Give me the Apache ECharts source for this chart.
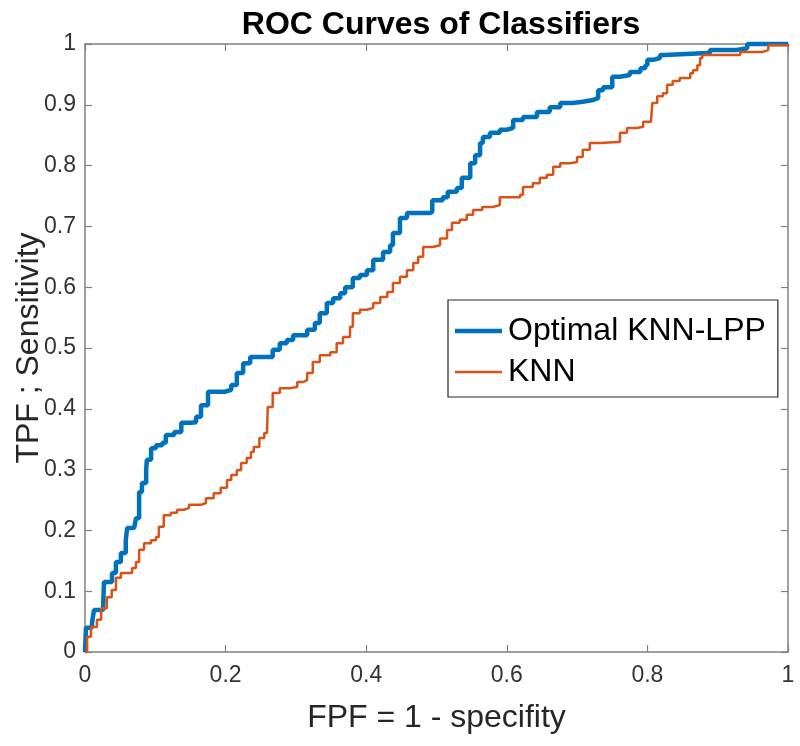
<!DOCTYPE html>
<html>
<head>
<meta charset="utf-8">
<script src="https://cdn.jsdelivr.net/npm/echarts@6/dist/echarts.min.js"></script>
<style>html,body{margin:0;padding:0;background:#fff}#c{width:800px;height:746px}</style>
</head>
<body>
<div id="c"></div>
<script>
var xTicks = [0, 0.2, 0.4, 0.6, 0.8, 1];
var yTicks = [0, 0.1, 0.2, 0.3, 0.4, 0.5, 0.6, 0.7, 0.8, 0.9, 1];
var seriesNames = ['Optimal KNN-LPP', 'KNN'];

var lppFPF = [0,0.0014,0.01,0.0128,0.0256,0.027,0.0384,0.044,0.051,0.058,0.06,0.07,0.0725,0.077,0.081,0.087,0.088,0.094,0.101,0.11,0.115,0.127,0.137,0.151,0.158,0.165,0.175,0.199,0.208,0.216,0.225,0.235,0.259,0.267,0.277,0.287,0.296,0.316,0.327,0.334,0.344,0.353,0.363,0.37,0.381,0.391,0.401,0.41,0.424,0.434,0.438,0.448,0.458,0.491,0.494,0.509,0.516,0.529,0.536,0.548,0.555,0.562,0.566,0.576,0.59,0.6,0.609,0.623,0.643,0.661,0.676,0.694,0.708,0.723,0.73,0.737,0.75,0.761,0.775,0.79,0.797,0.8,0.808,0.818,0.825,0.885,0.889,0.927,0.942,1];
var lppTPF = [0,0.04,0.048,0.069,0.069,0.115,0.13,0.148,0.163,0.184,0.204,0.206,0.22,0.263,0.278,0.3,0.316,0.335,0.34,0.344,0.357,0.362,0.377,0.378,0.387,0.406,0.428,0.431,0.439,0.459,0.475,0.485,0.485,0.497,0.508,0.513,0.521,0.53,0.541,0.557,0.574,0.582,0.59,0.6,0.615,0.62,0.628,0.645,0.658,0.669,0.689,0.714,0.722,0.724,0.743,0.748,0.757,0.763,0.78,0.804,0.817,0.837,0.847,0.854,0.859,0.862,0.875,0.88,0.888,0.896,0.903,0.905,0.908,0.911,0.924,0.929,0.946,0.949,0.954,0.96,0.965,0.974,0.977,0.982,0.985,0.985,0.99,0.993,1,1];

var knnFPF = [0,0.003,0.0085,0.017,0.023,0.027,0.031,0.038,0.044,0.051,0.06,0.067,0.0725,0.077,0.084,0.094,0.101,0.105,0.112,0.122,0.131,0.141,0.148,0.165,0.172,0.183,0.193,0.202,0.208,0.216,0.222,0.23,0.236,0.24,0.248,0.255,0.259,0.26,0.267,0.277,0.292,0.302,0.31,0.316,0.324,0.334,0.349,0.358,0.367,0.377,0.381,0.391,0.401,0.41,0.42,0.43,0.438,0.448,0.458,0.467,0.474,0.481,0.495,0.505,0.515,0.522,0.533,0.543,0.552,0.565,0.58,0.59,0.619,0.623,0.637,0.647,0.657,0.666,0.676,0.69,0.7,0.708,0.718,0.733,0.757,0.761,0.771,0.785,0.794,0.805,0.807,0.814,0.822,0.828,0.836,0.846,0.856,0.861,0.865,0.871,0.875,0.878,0.908,0.932,0.964,0.972,1];
var knnTPF = [0,0.025,0.041,0.053,0.072,0.072,0.09,0.102,0.122,0.13,0.13,0.138,0.148,0.168,0.179,0.184,0.189,0.206,0.225,0.229,0.234,0.237,0.242,0.245,0.253,0.261,0.27,0.283,0.291,0.299,0.311,0.319,0.329,0.337,0.352,0.36,0.365,0.403,0.426,0.434,0.436,0.444,0.447,0.459,0.477,0.488,0.493,0.508,0.518,0.535,0.557,0.563,0.566,0.574,0.584,0.592,0.607,0.617,0.628,0.64,0.65,0.666,0.669,0.68,0.694,0.706,0.711,0.719,0.727,0.732,0.735,0.748,0.752,0.765,0.771,0.78,0.785,0.798,0.804,0.806,0.814,0.826,0.837,0.839,0.839,0.854,0.862,0.864,0.872,0.873,0.903,0.914,0.919,0.933,0.939,0.944,0.944,0.952,0.957,0.965,0.977,0.982,0.982,0.987,0.99,0.998,1];

function pairs(xs, ys) { return xs.map(function (x, i) { return [x, ys[i]]; }); }

var FONT = "'Liberation Sans', Arial, Helvetica, sans-serif";
var axisCol = '#808080';
var labelCol = '#333333';

var chart = echarts.init(document.getElementById('c'), null, { renderer: 'canvas' });
var baseX = {
  type: 'value', min: 0, max: 1, interval: 0.2,
  axisLine: { show: true, onZero: false, lineStyle: { color: axisCol, width: 1.5 } },
  axisTick: { show: true, inside: true, length: 7, lineStyle: { color: axisCol, width: 1.2 } },
  splitLine: { show: false }
};
var baseY = {
  type: 'value', min: 0, max: 1, interval: 0.1,
  axisLine: { show: true, onZero: false, lineStyle: { color: axisCol, width: 1.5 } },
  axisTick: { show: true, inside: true, length: 7, lineStyle: { color: axisCol, width: 1.2 } },
  splitLine: { show: false }
};
chart.setOption({
  animation: false,
  backgroundColor: '#ffffff',
  title: {
    text: 'ROC Curves of Classifiers',
    left: 436, top: 4, textAlign: 'center',
    textStyle: { fontFamily: FONT, fontSize: 32, fontWeight: 'bold', color: '#000' }
  },
  grid: { left: 85, right: 12, top: 44, bottom: 94, containLabel: false, outerBoundsMode: 'none' },
  legend: {
    data: [
      { name: seriesNames[0], icon: 'path://M0,0 L47,0 L47,4.5 L0,4.5 Z' },
      { name: seriesNames[1], icon: 'path://M0,0 L47,0 L47,2.5 L0,2.5 Z' }
    ],
    orient: 'vertical',
    left: 448, top: 300,
    padding: [15, 12, 9, 7],
    itemGap: 9,
    itemWidth: 47, itemHeight: 14,
    symbolKeepAspect: true,
    backgroundColor: '#ffffff',
    borderColor: '#262626', borderWidth: 1.2, borderRadius: 0,
    textStyle: { fontFamily: FONT, fontSize: 32, color: '#000', padding: [0, 0, 0, 1] }
  },
  xAxis: [
    Object.assign({}, baseX, {
      position: 'bottom',
      name: 'FPF = 1 - specifity', nameLocation: 'middle', nameGap: 50, nameMoveOverlap: false,
      nameTextStyle: { fontFamily: FONT, fontSize: 32, color: '#262626' },
      axisLabel: { show: true, margin: 12, fontFamily: FONT, fontSize: 23, color: labelCol }
    }),
    Object.assign({}, baseX, { position: 'top', axisLabel: { show: false } })
  ],
  yAxis: [
    Object.assign({}, baseY, {
      position: 'left',
      name: 'TPF ; Sensitivity', nameLocation: 'middle', nameGap: 40, nameMoveOverlap: false,
      nameTextStyle: { fontFamily: FONT, fontSize: 32, color: '#262626' },
      axisLabel: { show: true, margin: 9, fontFamily: FONT, fontSize: 23, color: labelCol }
    }),
    Object.assign({}, baseY, { position: 'right', axisLabel: { show: false } })
  ],
  series: [
    {
      name: seriesNames[0], type: 'line', step: 'end', showSymbol: false, symbol: 'none',
      clip: false, z: 3,
      data: pairs(lppFPF, lppTPF),
      itemStyle: { color: '#0072BD' },
      lineStyle: { color: '#0072BD', width: 4.5 }
    },
    {
      name: seriesNames[1], type: 'line', step: 'end', showSymbol: false, symbol: 'none',
      clip: false, z: 4,
      data: pairs(knnFPF, knnTPF),
      itemStyle: { color: '#D95319' },
      lineStyle: { color: '#D95319', width: 2.5 }
    }
  ]
});
</script>
</body>
</html>
